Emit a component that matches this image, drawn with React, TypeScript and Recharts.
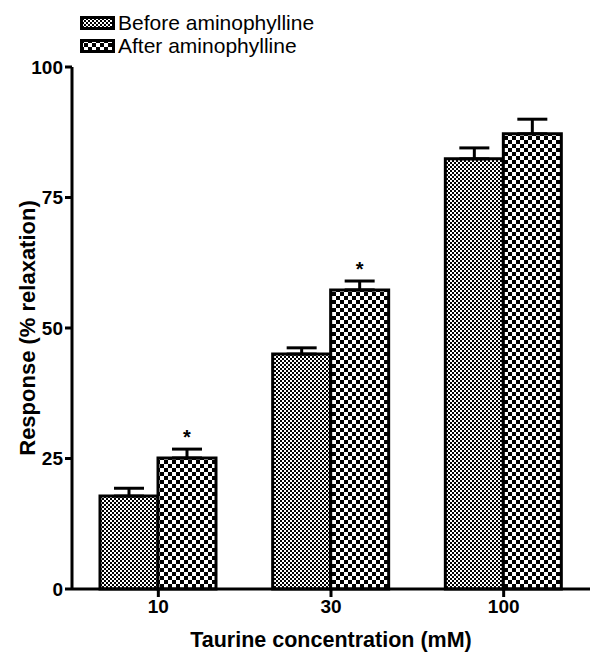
import { BarChart, Bar, XAxis, YAxis, ErrorBar, LabelList } from "recharts";

const concentrations = ["10", "30", "100"];
const beforeValues = [17.8, 45.0, 82.4];
const beforeSem = [1.5, 1.2, 2.1];
const afterValues = [25.1, 57.3, 87.2];
const afterSem = [1.7, 1.7, 2.8];
const significant = [true, true, false];
const yTicks = [0, 25, 50, 75, 100];

const data = concentrations.map((c, i) => ({
  conc: c,
  before: beforeValues[i],
  beforeErr: [0, beforeSem[i]],
  after: afterValues[i],
  afterErr: [0, afterSem[i]],
  star: significant[i] ? "*" : "",
}));

const font = "Arial, 'Liberation Sans', Helvetica, sans-serif";

function Patterns({ prefix }: { prefix: string }) {
  return (
    <defs>
      <pattern id={`${prefix}-fine`} width={4} height={4} patternUnits="userSpaceOnUse">
        <rect width={4} height={4} fill="#fff" />
        <rect x={0} y={0} width={2} height={2} fill="#000" />
        <rect x={2} y={2} width={2} height={2} fill="#000" />
      </pattern>
      <pattern id={`${prefix}-coarse`} width={8} height={8} patternUnits="userSpaceOnUse">
        <rect width={8} height={8} fill="#fff" />
        <rect x={0} y={0} width={4} height={4} fill="#000" />
        <rect x={4} y={4} width={4} height={4} fill="#000" />
      </pattern>
    </defs>
  );
}

// star above the error bar, px per unit taken from the bar itself
function StarLabel(props: any) {
  const { x, y, width, height, value, index } = props;
  if (!value) return null;
  const pxPerUnit = height / afterValues[index];
  const top = y - afterSem[index] * pxPerUnit;
  return (
    <text
      x={x + width / 2}
      y={top - 5}
      textAnchor="middle"
      fontFamily={font}
      fontWeight="bold"
      fontSize={20}
      fill="#000"
    >
      {value}
    </text>
  );
}

const legendItems = [
  { label: "Before aminophylline", fill: "lg-fine" },
  { label: "After aminophylline", fill: "lg-coarse" },
];

export default function App() {
  return (
    <div style={{ position: "absolute", left: 0, top: 0, width: 590, height: 653, background: "#fff" }}>
      <div style={{ position: "absolute", left: 80, top: 11, fontFamily: font, fontSize: 21, lineHeight: "23px", color: "#000" }}>
        {legendItems.map((it) => (
          <div key={it.label} style={{ display: "flex", alignItems: "center" }}>
            <svg width={36} height={14} style={{ marginRight: 2 }}>
              <Patterns prefix="lg" />
              <rect x={1.5} y={1.5} width={32} height={11} fill={`url(#${it.fill})`} stroke="#000" strokeWidth={3} />
            </svg>
            <span>{it.label}</span>
          </div>
        ))}
      </div>
      <BarChart
        width={590}
        height={653}
        data={data}
        margin={{ top: 67, right: 0, left: 0, bottom: 0 }}
        barGap={0}
        barSize={58}
      >
        <Patterns prefix="ch" />
        <XAxis
          dataKey="conc"
          height={64}
          axisLine={{ stroke: "#000", strokeWidth: 3 }}
          tickLine={{ stroke: "#000", strokeWidth: 3 }}
          tickSize={8}
          tickMargin={3}
          tick={{ fill: "#000", fontFamily: font, fontWeight: "bold", fontSize: 19 }}
          label={{
            value: "Taurine concentration (mM)",
            position: "insideBottom",
            offset: 6,
            fill: "#000",
            fontFamily: font,
            fontWeight: "bold",
            fontSize: 21.5,
          }}
        />
        <YAxis
          width={72}
          domain={[0, 100]}
          ticks={yTicks}
          axisLine={{ stroke: "#000", strokeWidth: 3 }}
          tickLine={{ stroke: "#000", strokeWidth: 3 }}
          tickSize={7}
          tickMargin={2}
          tick={{ fill: "#000", fontFamily: font, fontWeight: "bold", fontSize: 19 }}
          label={{
            value: "Response (% relaxation)",
            angle: -90,
            position: "center",
            dx: -9,
            fill: "#000",
            fontFamily: font,
            fontWeight: "bold",
            fontSize: 22,
          }}
        />
        <Bar dataKey="before" fill="url(#ch-fine)" stroke="#000" strokeWidth={3} isAnimationActive={false}>
          <ErrorBar dataKey="beforeErr" width={15} stroke="#000" strokeWidth={3} direction="y" />
        </Bar>
        <Bar dataKey="after" fill="url(#ch-coarse)" stroke="#000" strokeWidth={3} isAnimationActive={false}>
          <ErrorBar dataKey="afterErr" width={15} stroke="#000" strokeWidth={3} direction="y" />
          <LabelList dataKey="star" content={StarLabel} />
        </Bar>
      </BarChart>
    </div>
  );
}
